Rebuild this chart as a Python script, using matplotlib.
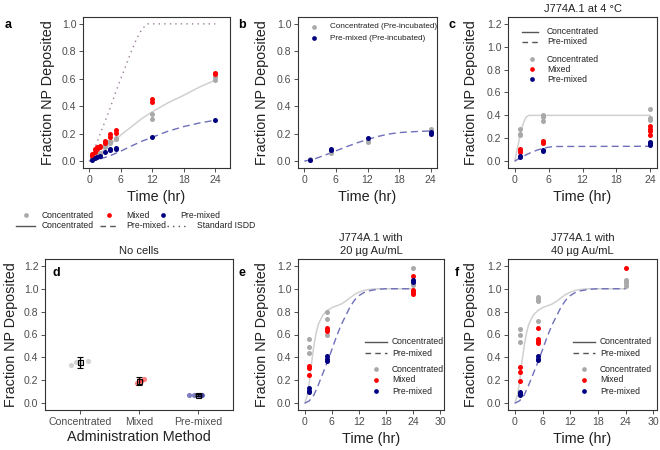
import matplotlib
matplotlib.use("Agg")
import matplotlib.pyplot as plt
from matplotlib.lines import Line2D

plt.rcParams['font.family'] = ['Liberation Sans', 'DejaVu Sans']

W, H = 660, 450

GREY = '#a9a9a9'
RED = '#ff0000'
NAVY = '#000080'
LINE_GREY = '#d0d0d0'
LINE_BLUE = '#6f6fbb'
LINE_ISDD = '#9c7c9c'
KEY_GREY = '#555555'
TXT = '#222222'

# ---- panel a ----
a_conc_t = [0.5, 0.5, 1, 1, 1.5, 1.5, 2, 2, 3, 3, 4, 4, 5, 5, 12, 12, 24, 24]
a_conc_y = [0.02, 0.03, 0.03, 0.04, 0.04, 0.05, 0.05, 0.06, 0.10, 0.12, 0.13, 0.15, 0.16, 0.17, 0.305, 0.34, 0.59, 0.615]
a_mix_t = [0.5, 0.5, 1, 1, 1.5, 1.5, 2, 2, 3, 3, 4, 4, 5, 5, 12, 12, 24, 24]
a_mix_y = [0.04, 0.05, 0.07, 0.085, 0.09, 0.10, 0.10, 0.11, 0.135, 0.145, 0.175, 0.20, 0.205, 0.23, 0.43, 0.45, 0.635, 0.645]
a_pre_t = [0.5, 1, 1.5, 2, 3, 4, 4, 5, 5, 12, 24]
a_pre_y = [0.01, 0.02, 0.03, 0.04, 0.065, 0.08, 0.085, 0.09, 0.095, 0.175, 0.30]
a_line_t = [0, 2, 4, 6, 8, 10, 12, 15, 18, 21, 24]
a_conc_line = [0, 0.055, 0.12, 0.19, 0.25, 0.31, 0.36, 0.425, 0.48, 0.54, 0.59]
a_pre_line = [0, 0.015, 0.04, 0.073, 0.11, 0.145, 0.174, 0.218, 0.252, 0.278, 0.298]
a_isdd_t = [0, 1, 2, 3, 4, 5, 6, 7, 8, 9, 10, 11, 24]
a_isdd_y = [0, 0.09, 0.19, 0.29, 0.39, 0.5, 0.6, 0.7, 0.8, 0.89, 0.96, 1.0, 1.0]

# ---- panel b ----
b_conc_t = [1, 1, 5, 5, 12, 12, 24, 24]
b_conc_y = [0.01, 0.015, 0.06, 0.07, 0.14, 0.15, 0.22, 0.235]
b_pre_t = [1, 5, 5, 12, 24, 24]
b_pre_y = [0.01, 0.08, 0.085, 0.17, 0.20, 0.21]
b_line_t = [0, 2, 4, 6, 8, 10, 12, 14, 16, 18, 21, 24]
b_pre_line = [0, 0.017, 0.045, 0.075, 0.105, 0.133, 0.158, 0.18, 0.197, 0.208, 0.215, 0.22]

# ---- panel c ----
c_conc_t = [1, 1, 1, 5, 5, 5, 24, 24, 24]
c_conc_y = [0.23, 0.24, 0.28, 0.35, 0.39, 0.40, 0.36, 0.38, 0.46]
c_mix_t = [1, 1, 1, 5, 5, 5, 24, 24, 24, 24]
c_mix_y = [0.08, 0.095, 0.11, 0.155, 0.17, 0.18, 0.23, 0.26, 0.285, 0.305]
c_pre_t = [1, 1, 5, 5, 24, 24, 24]
c_pre_y = [0.04, 0.045, 0.09, 0.095, 0.14, 0.155, 0.17]
c_conc_line_t = [0, 0.5, 1, 1.5, 2, 2.5, 3, 24]
c_conc_line = [0, 0.12, 0.24, 0.33, 0.385, 0.40, 0.40, 0.40]
c_pre_line_t = [0, 1, 2, 3, 4, 5, 6, 7, 24]
c_pre_line = [0, 0.03, 0.055, 0.078, 0.097, 0.112, 0.122, 0.128, 0.13]

# ---- panel d ----
d_methods = ['Concentrated', 'Mixed', 'Pre-mixed']
d_conc_y = [0.33, 0.36, 0.35, 0.37]
d_conc_jit = [-0.16, -0.07, 0.0, 0.14]
d_mix_y = [0.18, 0.20, 0.19, 0.21]
d_mix_jit = [-0.04, 0.0, 0.04, 0.08]
d_pre_y = [0.072, 0.072, 0.07, 0.072, 0.07]
d_pre_jit = [-0.15, -0.07, 0.0, 0.05, 0.07]
d_mean = [0.357, 0.195, 0.07]
d_err = [0.048, 0.033, 0.008]

# ---- panel e ----
e_conc_t = [1, 1, 1, 5, 5, 5, 24, 24, 24]
e_conc_y = [0.435, 0.49, 0.565, 0.60, 0.735, 0.80, 1.03, 1.05, 1.18]
e_mix_t = [1, 1, 1, 5, 5, 5, 24, 24, 24, 24]
e_mix_y = [0.25, 0.305, 0.325, 0.63, 0.64, 0.66, 0.955, 0.975, 0.99, 1.11]
e_pre_t = [1, 1, 1, 5, 5, 5, 24, 24]
e_pre_y = [0.10, 0.11, 0.13, 0.365, 0.385, 0.41, 1.06, 1.08]

# ---- panel f ----
f_conc_t = [1, 1, 1, 5, 5, 5, 5, 24, 24, 24, 24]
f_conc_y = [0.535, 0.60, 0.65, 0.72, 0.895, 0.91, 0.925, 1.02, 1.05, 1.065, 1.08]
f_mix_t = [1, 1, 1, 5, 5, 5, 5, 24]
f_mix_y = [0.19, 0.27, 0.32, 0.525, 0.545, 0.56, 0.66, 1.18]
f_pre_t = [1, 1, 1, 5, 5, 5]
f_pre_y = [0.07, 0.08, 0.10, 0.38, 0.39, 0.415]

# model curves shared by e and f
ef_conc_line_t = [0, 0.5, 1, 1.5, 2, 2.5, 3, 4, 5, 6, 7, 8, 9, 10, 11, 12, 13, 14, 16, 20, 24]
ef_conc_line = [0, 0.06, 0.18, 0.35, 0.5, 0.61, 0.69, 0.77, 0.81, 0.835, 0.85, 0.865, 0.89, 0.92, 0.95, 0.97, 0.985, 0.993, 1.0, 1.0, 1.0]
ef_pre_line_t = [0, 1, 2, 3, 4, 5, 6, 7, 8, 9, 10, 11, 12, 13, 14, 16, 18, 24]
ef_pre_line = [0, 0.02, 0.07, 0.16, 0.26, 0.36, 0.47, 0.58, 0.68, 0.76, 0.84, 0.9, 0.94, 0.965, 0.98, 0.995, 1.0, 1.0]

fig = plt.figure(figsize=(6.6, 4.5), dpi=100)


def fx(x):
    return x / W


def fy(y):
    return 1 - y / H


def add_ax(l, t, r, b):
    ax = fig.add_axes([l / W, 1 - b / H, (r - l) / W, (b - t) / H])
    for s in ax.spines.values():
        s.set_color('#333333')
        s.set_linewidth(0.8)
    ax.tick_params(length=2.8, width=0.6, color='#333333', labelsize=7.6,
                   labelcolor='#4d4d4d', pad=2)
    return ax


def labels(ax, box, xlabel, xlabel_top, ylabel_x):
    l, t, r, b = box
    ax.set_xlabel(xlabel, fontsize=10.4, color=TXT)
    ax.xaxis.set_label_coords(0.5, -(xlabel_top - b) / (b - t))
    ax.set_ylabel('Fraction NP Deposited', fontsize=10.4, color=TXT)
    ax.yaxis.set_label_coords((ylabel_x + 10 - l) / (r - l), 0.5)


def letter(x, y, s):
    fig.text(fx(x), fy(y), s, fontsize=9, fontweight='bold', ha='center', va='center')


def key_line(x0, x1, y, **kw):
    fig.add_artist(Line2D([fx(x0), fx(x1)], [fy(y), fy(y)], transform=fig.transFigure,
                          color=KEY_GREY, lw=1.0, **kw))


def key_dot(x, y, color):
    fig.add_artist(Line2D([fx(x)], [fy(y)], transform=fig.transFigure, marker='o',
                          ms=3.4, mec='none', mfc=color, ls='none'))


def key_text(x, y, s, size=6.2):
    fig.text(fx(x), fy(y), s, fontsize=size, va='center', ha='left', color=TXT)


def pts(ax, t, y, color):
    ax.scatter(t, y, s=13, color=color, lw=0, zorder=3)


def y_scale(ax, top):
    if top == 1.0:
        ax.set_ylim(-0.05, 1.05)
        ax.set_yticks([0, 0.2, 0.4, 0.6, 0.8, 1.0])
    else:
        ax.set_ylim(-0.06, 1.26)
        ax.set_yticks([0, 0.2, 0.4, 0.6, 0.8, 1.0, 1.2])


# panel a
box = (83, 17, 230, 168)
ax = add_ax(*box)
ax.plot(a_isdd_t, a_isdd_y, color=LINE_ISDD, lw=1.0, dashes=(1, 3))
ax.plot(a_line_t, a_conc_line, color=LINE_GREY, lw=1.1)
ax.plot(a_line_t, a_pre_line, color=LINE_BLUE, lw=1.0, dashes=(5, 3))
pts(ax, a_conc_t, a_conc_y, GREY)
pts(ax, a_mix_t, a_mix_y, RED)
pts(ax, a_pre_t, a_pre_y, NAVY)
ax.set_xlim(-1.2, 26.8)
ax.set_xticks([0, 6, 12, 18, 24])
y_scale(ax, 1.0)
labels(ax, box, 'Time (hr)', 190, 45)
letter(8, 25, 'a')

# legend under a
key_dot(26, 215, GREY)
key_text(42, 215, 'Concentrated')
key_dot(109, 215, RED)
key_text(126, 215, 'Mixed')
key_dot(163, 215, NAVY)
key_text(180, 215, 'Pre-mixed')
key_line(16, 35, 226)
key_text(42, 226, 'Concentrated')
key_line(100, 118, 226, dashes=(4, 3))
key_text(126, 226, 'Pre-mixed')
key_line(167, 188, 226, dashes=(1, 3))
key_text(197, 226, 'Standard ISDD')

# panel b
box = (298, 17, 437, 168)
ax = add_ax(*box)
ax.plot(b_line_t, b_pre_line, color=LINE_BLUE, lw=1.0, dashes=(5, 3))
pts(ax, b_conc_t, b_conc_y, GREY)
pts(ax, b_pre_t, b_pre_y, NAVY)
ax.set_xlim(-1.2, 25.2)
ax.set_xticks([0, 6, 12, 18, 24])
y_scale(ax, 1.0)
labels(ax, box, 'Time (hr)', 190, 259)
letter(242, 25, 'b')
key_dot(314, 27, GREY)
key_text(330, 27, 'Concentrated (Pre-incubated)', 5.9)
key_dot(314, 38, NAVY)
key_text(330, 38, 'Pre-mixed (Pre-incubated)', 5.9)

# panel c
box = (508, 17, 657, 168)
ax = add_ax(*box)
ax.plot(c_conc_line_t, c_conc_line, color=LINE_GREY, lw=1.1)
ax.plot(c_pre_line_t, c_pre_line, color=LINE_BLUE, lw=1.0, dashes=(5, 3))
pts(ax, c_conc_t, c_conc_y, GREY)
pts(ax, c_mix_t, c_mix_y, RED)
pts(ax, c_pre_t, c_pre_y, NAVY)
ax.set_xlim(-1.2, 25.2)
ax.set_xticks([0, 6, 12, 18, 24])
y_scale(ax, 1.2)
labels(ax, box, 'Time (hr)', 190, 468)
ax.set_title('J774A.1 at 4 °C', fontsize=8, pad=3.3, color=TXT)
letter(452, 25, 'c')
key_line(522, 538, 32)
key_text(547, 32, 'Concentrated')
key_line(522, 538, 42, dashes=(4, 3))
key_text(547, 42, 'Pre-mixed')
key_dot(532, 59, GREY)
key_text(547, 59, 'Concentrated')
key_dot(532, 69, RED)
key_text(547, 69, 'Mixed')
key_dot(532, 79, NAVY)
key_text(547, 79, 'Pre-mixed')

# panel d
box = (45, 259, 233, 410)
ax = add_ax(*box)
groups = [(d_conc_y, d_conc_jit, GREY), (d_mix_y, d_mix_jit, RED), (d_pre_y, d_pre_jit, NAVY)]
for i, (vals, jit, col) in enumerate(groups):
    ax.scatter([i + 1 + j for j in jit], vals, s=14, color=col, alpha=0.5, lw=0, zorder=2)
ax.errorbar([1, 2, 3], d_mean, yerr=d_err, fmt='s', ms=3.6, mfc='none', mec='black',
            mew=0.8, ecolor='black', elinewidth=0.9, capsize=2.2, capthick=0.9, zorder=3)
ax.set_xlim(0.4, 3.6)
ax.set_xticks([1, 2, 3])
ax.set_xticklabels(d_methods)
y_scale(ax, 1.2)
labels(ax, box, 'Administration Method', 430, 8)
ax.set_title('No cells', fontsize=8, pad=3.3, color=TXT)
letter(56, 273, 'd')

# panels e and f
for box, ylx, let, lx, conc, mix, pre, title, leg_x in [
        ((298, 259, 444, 410), 259, 'e', 242, (e_conc_t, e_conc_y), (e_mix_t, e_mix_y),
         (e_pre_t, e_pre_y), 'J774A.1 with\n20 µg Au/mL', 365),
        ((508, 259, 657, 410), 468, 'f', 457, (f_conc_t, f_conc_y), (f_mix_t, f_mix_y),
         (f_pre_t, f_pre_y), 'J774A.1 with\n40 µg Au/mL', 573)]:
    ax = add_ax(*box)
    ax.plot(ef_conc_line_t, ef_conc_line, color=LINE_GREY, lw=1.1)
    ax.plot(ef_pre_line_t, ef_pre_line, color=LINE_BLUE, lw=1.0, dashes=(5, 3))
    pts(ax, conc[0], conc[1], GREY)
    pts(ax, mix[0], mix[1], RED)
    pts(ax, pre[0], pre[1], NAVY)
    ax.set_xlim(-1.5, 30.8)
    ax.set_xticks([0, 6, 12, 18, 24, 30])
    y_scale(ax, 1.2)
    labels(ax, box, 'Time (hr)', 432, ylx)
    ax.set_title(title, fontsize=8, pad=3.3, color=TXT, linespacing=1.4)
    letter(lx, 273, let)
    key_line(leg_x, leg_x + 22, 342)
    key_text(leg_x + 27, 342, 'Concentrated')
    key_line(leg_x, leg_x + 22, 353, dashes=(4, 3))
    key_text(leg_x + 27, 353, 'Pre-mixed')
    key_dot(leg_x + 11, 369, GREY)
    key_text(leg_x + 27, 369, 'Concentrated')
    key_dot(leg_x + 11, 380, RED)
    key_text(leg_x + 27, 380, 'Mixed')
    key_dot(leg_x + 11, 391, NAVY)
    key_text(leg_x + 27, 391, 'Pre-mixed')

fig.savefig('out.png', dpi=100)
